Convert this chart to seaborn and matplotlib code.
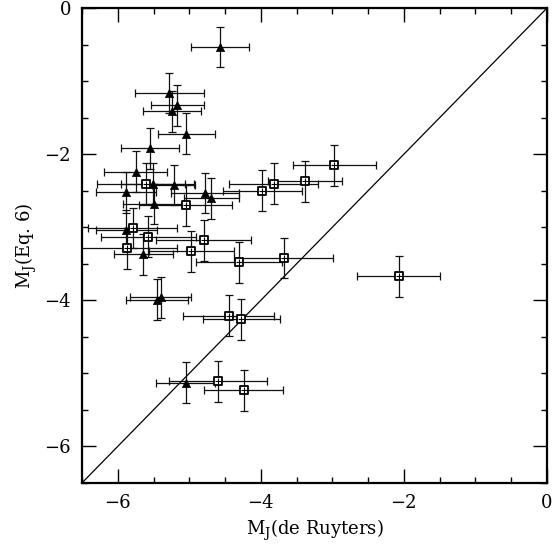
import numpy as np
import pandas as pd
import matplotlib
matplotlib.use("Agg")
import matplotlib.pyplot as plt
import seaborn as sns
from matplotlib.ticker import MultipleLocator

# Triangles (filled)
tri_x    = [-4.57, -5.28, -5.17, -5.24, -5.04, -5.55, -5.75, -5.88, -5.51, -5.22,
            -5.50, -4.78, -4.69, -5.88, -5.64, -5.45, -5.40, -5.05]
tri_y    = [-0.53, -1.16, -1.33, -1.41, -1.72, -1.92, -2.24, -2.52, -2.40, -2.42,
            -2.68, -2.53, -2.60, -3.04, -3.37, -3.99, -3.96, -5.13]
tri_xerr = [0.41, 0.48, 0.37, 0.40, 0.40, 0.41, 0.44, 0.42, 0.45, 0.30,
            0.43, 0.48, 0.39, 0.43, 0.41, 0.43, 0.43, 0.41]
tri_yerr = [0.28] * 18

# Squares (open)
sq_x    = [-5.61, -5.05, -5.79, -5.57, -4.80, -5.87, -4.97, -4.31, -3.68,
           -3.98, -3.82, -3.38, -2.97, -2.07, -4.45, -4.27, -4.60, -4.24]
sq_y    = [-2.40, -2.70, -3.01, -3.13, -3.18, -3.29, -3.33, -3.48, -3.42,
           -2.50, -2.40, -2.37, -2.15, -3.67, -4.21, -4.26, -5.11, -5.23]
sq_xerr = [0.68, 0.65, 0.62, 0.66, 0.67, 0.70, 0.59, 0.60, 0.69,
           0.55, 0.62, 0.52, 0.58, 0.58, 0.64, 0.54, 0.69, 0.55]
sq_yerr = [0.28] * 18

sns.set_theme(style="ticks")
plt.rcParams['font.family'] = ['DejaVu Serif']
plt.rcParams['mathtext.fontset'] = 'dejavuserif'

df = pd.DataFrame({
    'x': tri_x + sq_x,
    'y': tri_y + sq_y,
    'xerr': tri_xerr + sq_xerr,
    'yerr': tri_yerr + sq_yerr,
    'kind': ['tri'] * len(tri_x) + ['sq'] * len(sq_x),
})

fig = plt.figure(figsize=(5.54, 5.50), dpi=100)
ax = fig.add_axes([0.148, 0.122, 0.839, 0.863])

ax.errorbar(df['x'], df['y'], xerr=df['xerr'], yerr=df['yerr'], fmt='none',
            ecolor='#111111', elinewidth=0.9, capsize=3, capthick=0.9, zorder=2)

ax.plot([-6.5, 0], [-6.5, 0], color='black', lw=0.9, zorder=1)

sns.scatterplot(data=df[df.kind == 'tri'], x='x', y='y', marker='^', color='black',
                s=35, edgecolor='black', linewidth=0.5, ax=ax, zorder=3, legend=False)
sns.scatterplot(data=df[df.kind == 'sq'], x='x', y='y', marker='s', facecolor='white',
                s=38, edgecolor='black', linewidth=1.3, ax=ax, zorder=3, legend=False)
sns.scatterplot(data=df[df.kind == 'sq'], x='x', y='y', marker='+', color='black',
                s=14, linewidth=0.8, ax=ax, zorder=4, legend=False)

ax.set_xlim(-6.5, 0)
ax.set_ylim(-6.5, 0)
ax.xaxis.set_major_locator(MultipleLocator(2))
ax.yaxis.set_major_locator(MultipleLocator(2))
ax.xaxis.set_minor_locator(MultipleLocator(0.5))
ax.yaxis.set_minor_locator(MultipleLocator(0.5))
ax.tick_params(which='both', direction='in', top=True, right=True, color='black',
               labelsize=13, labelcolor='black')
ax.tick_params(which='major', length=10, width=1.0, pad=8)
ax.tick_params(which='minor', length=4.5, width=1.0)
for s in ax.spines.values():
    s.set_linewidth(1.6)
    s.set_color('black')

ax.set_xlabel(r'M$_{\rm J}$(de Ruyters)', fontsize=13, color='black')
ax.set_ylabel(r'M$_{\rm J}$(Eq. 6)', fontsize=13, color='black')

fig.savefig('out.png', dpi=100)
